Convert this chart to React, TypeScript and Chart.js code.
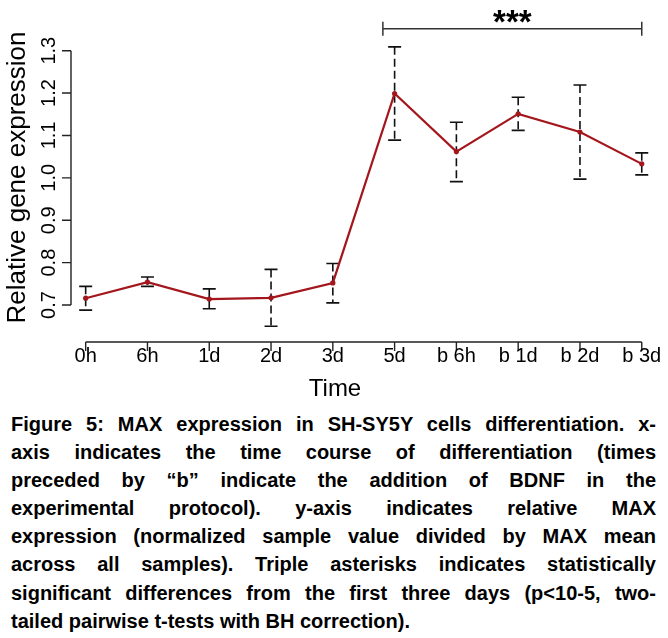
import React, { useEffect, useRef } from "react";
import { Chart, registerables } from "chart.js";
Chart.register(...registerables);

const timeLabels = ["0h", "6h", "1d", "2d", "3d", "5d", "b 6h", "b 1d", "b 2d", "b 3d"];
const meanExpr = [0.716, 0.754, 0.714, 0.717, 0.752, 1.199, 1.062, 1.151, 1.108, 1.033];
const errUpper = [0.744, 0.766, 0.738, 0.784, 0.798, 1.309, 1.131, 1.19, 1.219, 1.059];
const errLower = [0.688, 0.744, 0.691, 0.65, 0.705, 1.089, 0.991, 1.112, 0.997, 1.007];
const yTicks = [0.7, 0.8, 0.9, 1.0, 1.1, 1.2, 1.3];
const sigStart = 5.81;
const sigEnd = 10;
const sigLevel = 1.352;
const sigLabel = "***";
const yTitle = "Relative gene expression";
const xTitle = "Time";
const captionLines = [
  "Figure 5: MAX expression in SH-SY5Y cells differentiation. x-",
  "axis indicates the time course of differentiation (times",
  "preceded by \u201cb\u201d indicate the addition of BDNF in the",
  "experimental protocol). y-axis indicates relative MAX",
  "expression (normalized sample value divided by MAX mean",
  "across all samples). Triple asterisks indicates statistically",
  "significant differences from the first three days (p<10-5, two-",
  "tailed pairwise t-tests with BH correction).",
];

const FONT = "'Liberation Sans', Arial, Helvetica, sans-serif";
const LINE_RED = "#a3161c";
const AXIS = "#222222";

const axesPlugin = {
  id: "rAxes",
  beforeDatasetsDraw(chart: any) {
    const ctx = chart.ctx;
    const xs = chart.scales.x;
    const ys = chart.scales.y;
    ctx.save();
    ctx.strokeStyle = "#111111";
    ctx.lineWidth = 1.6;
    const cap = 6.5;
    for (let i = 0; i < meanExpr.length; i++) {
      const px = xs.getPixelForValue(i + 1);
      const yt = ys.getPixelForValue(errUpper[i]);
      const yb = ys.getPixelForValue(errLower[i]);
      ctx.setLineDash([8, 4]);
      ctx.beginPath();
      ctx.moveTo(px, yt);
      ctx.lineTo(px, yb);
      ctx.stroke();
      ctx.setLineDash([]);
      ctx.beginPath();
      ctx.moveTo(px - cap, yt);
      ctx.lineTo(px + cap, yt);
      ctx.moveTo(px - cap, yb);
      ctx.lineTo(px + cap, yb);
      ctx.stroke();
    }
    ctx.restore();
  },
  afterDraw(chart: any) {
    const ctx = chart.ctx;
    const xs = chart.scales.x;
    const ys = chart.scales.y;
    const area = chart.chartArea;
    ctx.save();
    ctx.strokeStyle = AXIS;
    ctx.fillStyle = "#000000";
    ctx.lineWidth = 1.4;
    ctx.setLineDash([]);
    // y axis
    const yAxisX = area.left;
    ctx.beginPath();
    ctx.moveTo(yAxisX, ys.getPixelForValue(yTicks[0]));
    ctx.lineTo(yAxisX, ys.getPixelForValue(yTicks[yTicks.length - 1]));
    for (const v of yTicks) {
      const py = ys.getPixelForValue(v);
      ctx.moveTo(yAxisX, py);
      ctx.lineTo(yAxisX - 9, py);
    }
    ctx.stroke();
    ctx.font = "20px " + FONT;
    ctx.textAlign = "center";
    ctx.textBaseline = "alphabetic";
    for (const v of yTicks) {
      const py = ys.getPixelForValue(v);
      ctx.save();
      ctx.translate(yAxisX - 16, py);
      ctx.rotate(-Math.PI / 2);
      ctx.fillText(v.toFixed(1), 0, 0);
      ctx.restore();
    }
    // y title
    ctx.save();
    ctx.font = "26px " + FONT;
    ctx.translate(24.5, 177.5);
    ctx.rotate(-Math.PI / 2);
    ctx.fillText(yTitle, 0, 0);
    ctx.restore();
    // x axis
    const xAxisY = area.bottom;
    ctx.beginPath();
    ctx.moveTo(xs.getPixelForValue(1), xAxisY);
    ctx.lineTo(xs.getPixelForValue(timeLabels.length), xAxisY);
    for (let i = 0; i < timeLabels.length; i++) {
      const px = xs.getPixelForValue(i + 1);
      ctx.moveTo(px, xAxisY);
      ctx.lineTo(px, xAxisY + 9);
    }
    ctx.stroke();
    ctx.font = "20px " + FONT;
    for (let i = 0; i < timeLabels.length; i++) {
      const px = xs.getPixelForValue(i + 1);
      ctx.fillText(timeLabels[i], px, xAxisY + 20);
    }
    ctx.font = "24px " + FONT;
    ctx.fillText(xTitle, 335, xAxisY + 54);
    // significance bracket
    const sx0 = xs.getPixelForValue(sigStart);
    const sx1 = xs.getPixelForValue(sigEnd);
    const sy = ys.getPixelForValue(sigLevel);
    ctx.strokeStyle = "#333333";
    ctx.lineWidth = 1.5;
    ctx.beginPath();
    ctx.moveTo(sx0, sy);
    ctx.lineTo(sx1, sy);
    ctx.moveTo(sx0, sy - 7);
    ctx.lineTo(sx0, sy + 7);
    ctx.moveTo(sx1, sy - 7);
    ctx.lineTo(sx1, sy + 7);
    ctx.stroke();
    ctx.font = "bold 33px " + FONT;
    ctx.fillText(sigLabel, (sx0 + sx1) / 2, sy + 4);
    ctx.restore();
  },
};

export default function App() {
  const ref = useRef<HTMLCanvasElement | null>(null);
  useEffect(() => {
    if (!ref.current) return;
    const chart = new Chart(ref.current, {
      type: "line",
      data: {
        datasets: [
          {
            data: meanExpr.map((v, i) => ({ x: i + 1, y: v })),
            borderColor: LINE_RED,
            backgroundColor: LINE_RED,
            borderWidth: 2.2,
            pointRadius: 2.6,
            pointBorderWidth: 0,
            pointBackgroundColor: LINE_RED,
            tension: 0,
            clip: false as any,
          },
        ],
      },
      options: {
        animation: false,
        responsive: false,
        devicePixelRatio: 1,
        events: [],
        layout: { padding: { left: 71, right: 3, top: 10, bottom: 63 } },
        plugins: { legend: { display: false }, tooltip: { enabled: false }, title: { display: false } },
        scales: {
          x: { type: "linear", min: 0.7625, max: 10.36, display: false },
          y: { type: "linear", min: 0.6127, max: 1.396, display: false },
        },
      },
      plugins: [axesPlugin],
    });
    return () => chart.destroy();
  }, []);

  return (
    <div
      style={{
        position: "absolute",
        left: 0,
        top: 0,
        width: 668,
        height: 638,
        background: "#ffffff",
        overflow: "hidden",
      }}
    >
      <canvas ref={ref} width={668} height={405} style={{ position: "absolute", left: 0, top: 0, width: 668, height: 405 }} />
      <div
        style={{
          position: "absolute",
          left: 11,
          top: 410,
          width: 645,
          fontFamily: FONT,
          fontWeight: "bold",
          fontSize: 20,
          lineHeight: "28.1px",
          color: "#000",
        }}
      >
        {captionLines.map((t, i) => (
          <div
            key={i}
            style={{
              whiteSpace: "nowrap",
              textAlign: i === captionLines.length - 1 ? "left" : "justify",
              textAlignLast: i === captionLines.length - 1 ? "left" : "justify",
            } as any}
          >
            {t}
          </div>
        ))}
      </div>
    </div>
  );
}
